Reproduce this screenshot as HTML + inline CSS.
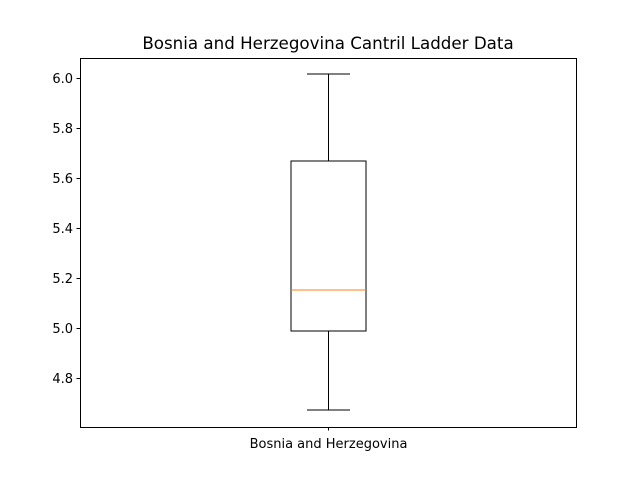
<!DOCTYPE html>
<html><head><meta charset="utf-8"><style>
body{margin:0;background:#fff;}
svg text{font-family:"DejaVu Sans","Liberation Sans",sans-serif;}
svg line, svg rect{shape-rendering:crispEdges;}
</style></head><body>
<svg id="chart" width="640" height="480" xmlns="http://www.w3.org/2000/svg">
<rect width="640" height="480" fill="#fff"/>
<text x="328" y="49" font-size="16.7" text-anchor="middle">Bosnia and Herzegovina Cantril Ladder Data</text>
<g id="plot"></g>
<rect x="80.5" y="58.5" width="496" height="369" fill="none" stroke="#000" stroke-width="1"/>
</svg>
<script>
const categories = ["Bosnia and Herzegovina"];
const whiskerLow = [4.672];
const q1 = [4.988];
const medians = [5.152];
const q3 = [5.668];
const whiskerHigh = [6.016];
const yTicks = [4.8, 5.0, 5.2, 5.4, 5.6, 5.8, 6.0];

const yMin = 4.604, yMax = 6.08;
const plotTop = 58, plotBottom = 427, plotLeft = 80, plotRight = 576;
function y(v){ return plotBottom - (v - yMin) / (yMax - yMin) * (plotBottom - plotTop); }
function x(i){ return plotLeft + (plotRight - plotLeft) * (i + 0.5) / categories.length; }

const NS = "http://www.w3.org/2000/svg";
const g = document.getElementById("plot");
function el(tag, attrs){ const e = document.createElementNS(NS, tag); for (const k in attrs) e.setAttribute(k, attrs[k]); g.appendChild(e); return e; }

yTicks.forEach(t => {
  const yy = Math.round(y(t)) + 0.5;
  const tk = el("line", {x1: plotLeft - 3.5, x2: plotLeft, y1: yy, y2: yy, stroke: "#000"});
  
  
  const lb = el("text", {x: plotLeft - 7, y: yy + 4.5, "font-size": 13, "text-anchor": "end"});
  lb.textContent = t.toFixed(1);
  
  
});

categories.forEach((c, i) => {
  const cx = Math.round(x(i)) + 0.5;
  const bw = 75, cw = 43;
  const tk = el("line", {x1: cx, x2: cx, y1: plotBottom, y2: plotBottom + 3.5, stroke: "#000"});
  
  
  const lb = el("text", {x: cx, y: plotBottom + 21, "font-size": 13, "text-anchor": "middle"});
  lb.textContent = c;
  
  

  const wl = el("line", {x1: cx, x2: cx, y1: y(whiskerHigh[i]), y2: y(q3[i]), stroke: "#000"});
  
  
  const wl2 = el("line", {x1: cx, x2: cx, y1: y(q1[i]), y2: y(whiskerLow[i]), stroke: "#000"});
  
  
  const c1 = el("line", {x1: cx - cw/2, x2: cx + cw/2, y1: y(whiskerHigh[i]), y2: y(whiskerHigh[i]), stroke: "#000"});
  
  
  const c2 = el("line", {x1: cx - cw/2, x2: cx + cw/2, y1: y(whiskerLow[i]), y2: y(whiskerLow[i]), stroke: "#000"});
  
  
  const bx = el("rect", {x: cx - bw/2, y: y(q3[i]), width: bw, height: y(q1[i]) - y(q3[i]), fill: "none", stroke: "#000"});
  
  
  const md = el("line", {x1: cx - bw/2, x2: cx + bw/2, y1: y(medians[i]), y2: y(medians[i]), stroke: "#ff7f0e"});
  
  
});
</script>
</body></html>
